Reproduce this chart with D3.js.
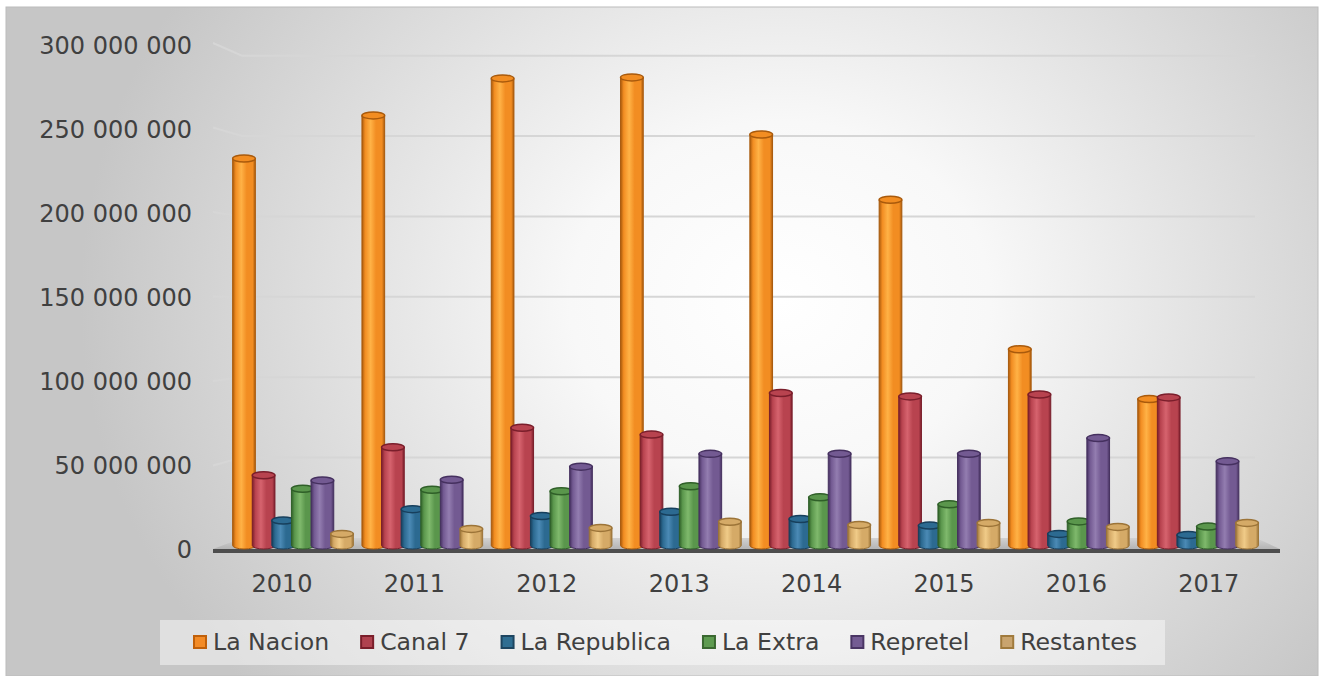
<!DOCTYPE html>
<html>
<head>
<meta charset="utf-8">
<script src="https://cdn.jsdelivr.net/npm/d3@7"></script>
<style>
  body { margin: 0; background: #fff; }
  text { font-family: "DejaVu Sans", Verdana, sans-serif; fill: #404040; }
</style>
</head>
<body>
<div id="chart"></div>
<script>
var years = ["2010", "2011", "2012", "2013", "2014", "2015", "2016", "2017"];
var seriesNames = ["La Nacion", "Canal 7", "La Republica", "La Extra", "Repretel", "Restantes"];

var laNacion    = [233100000, 259100000, 281400000, 282000000, 247600000, 208300000, 118200000, 88200000];
var canal7      = [42300000, 59200000, 70900000, 66800000, 91900000, 89800000, 91000000, 89200000];
var laRepublica = [15100000, 21900000, 17800000, 20300000, 16000000, 12000000, 7000000, 6300000];
var laExtra     = [34200000, 33600000, 32700000, 35700000, 29000000, 24800000, 14500000, 11400000];
var repretel    = [39200000, 39600000, 47500000, 55200000, 55300000, 55300000, 64700000, 50700000];
var restantes   = [7000000, 10000000, 10600000, 14300000, 12400000, 13600000, 11200000, 13600000];

var yTicks = [0, 50000000, 100000000, 150000000, 200000000, 250000000, 300000000];

var allSeries = [laNacion, canal7, laRepublica, laExtra, repretel, restantes];

// edge / mid / highlight colours per series
var colors = [
  {edge: "#a95a0c", mid: "#f28d22", hi: "#ffb246", sw: "#f38b26", sb: "#c0600a"},
  {edge: "#7a1e2b", mid: "#b8434f", hi: "#d6636e", sw: "#b0424f", sb: "#7a1e2a"},
  {edge: "#173f5c", mid: "#2c6a91", hi: "#4b8ab5", sw: "#2f6e92", sb: "#1d4560"},
  {edge: "#2f5f28", mid: "#5a964c", hi: "#7fb96c", sw: "#5e9b50", sb: "#3a6830"},
  {edge: "#45305f", mid: "#735a92", hi: "#937db0", sw: "#745c93", sb: "#4a3564"},
  {edge: "#9c7438", mid: "#d5aa67", hi: "#f0cb88", sw: "#c9a46e", sb: "#a07a3c"}
];

var W = 1324, H = 676;

var svg = d3.select("#chart").append("svg")
  .attr("width", W)
  .attr("height", H);

var defs = svg.append("defs");

var bg = defs.append("radialGradient")
  .attr("id", "bg")
  .attr("gradientUnits", "userSpaceOnUse")
  .attr("cx", 780).attr("cy", 300).attr("r", 700)
  .attr("gradientTransform", "translate(780,300) scale(1,0.85) translate(-780,-300)");
bg.append("stop").attr("offset", "0%").attr("stop-color", "#ffffff");
bg.append("stop").attr("offset", "30%").attr("stop-color", "#f8f8f8");
bg.append("stop").attr("offset", "100%").attr("stop-color", "#c6c6c6");

colors.forEach(function (c, i) {
  var g = defs.append("linearGradient")
    .attr("id", "cyl" + i)
    .attr("x1", "0%").attr("x2", "100%").attr("y1", "0%").attr("y2", "0%");
  g.append("stop").attr("offset", "0%").attr("stop-color", c.edge);
  g.append("stop").attr("offset", "14%").attr("stop-color", c.mid);
  g.append("stop").attr("offset", "38%").attr("stop-color", c.hi);
  g.append("stop").attr("offset", "62%").attr("stop-color", c.mid);
  g.append("stop").attr("offset", "88%").attr("stop-color", c.mid);
  g.append("stop").attr("offset", "100%").attr("stop-color", c.edge);
});

var floorGrad = defs.append("linearGradient")
  .attr("id", "floor")
  .attr("x1", "0%").attr("x2", "0%").attr("y1", "0%").attr("y2", "100%");
floorGrad.append("stop").attr("offset", "0%").attr("stop-color", "#d2d2d2");
floorGrad.append("stop").attr("offset", "100%").attr("stop-color", "#b4b4b4");

// chart background
svg.append("rect")
  .attr("x", 6).attr("y", 7)
  .attr("width", 1312).attr("height", 669)
  .attr("fill", "url(#bg)")
  .attr("stroke", "#bcbcbc")
  .attr("stroke-width", 1);

// scales: front plane (labels), back wall (gridlines), bar plane
var yFront = d3.scaleLinear().domain([0, 300000000]).range([550, 43]);
var yBack  = d3.scaleLinear().domain([0, 300000000]).range([538, 55.7]);
var yBar   = d3.scaleLinear().domain([0, 300000000]).range([545.5, 47.5]);
var yLabel = d3.scaleLinear().domain([0, 300000000]).range([549, 45]);

var xBar = d3.scaleBand().domain(years).range([228.35, 1262.75]);
var xLabel = d3.scaleBand().domain(years).range([215.8, 1275]);
var xSeries = d3.scaleBand().domain(seriesNames).range([0, 6 * 19.6]).paddingInner(0);
var barW = 22.7;

// gridlines
var grid = svg.append("g");
yTicks.filter(function (d) { return d > 0; }).forEach(function (t) {
  grid.append("path")
    .attr("d", "M213," + yFront(t) + "L242," + yBack(t) + "L1255," + yBack(t))
    .attr("fill", "none")
    .attr("stroke", "#d6d6d6")
    .attr("stroke-width", 2);
});

// floor
svg.append("path")
  .attr("d", "M242,538L1256,538L1280,549L213,549Z")
  .attr("fill", "url(#floor)");
svg.append("rect")
  .attr("x", 213).attr("y", 549)
  .attr("width", 1067).attr("height", 4)
  .attr("fill", "#4e4e4e");

// y axis labels
var fmt = d3.formatLocale({decimal: ",", thousands: " ", grouping: [3], currency: ["", ""]}).format(",");
var yAxis = svg.append("g")
  .attr("transform", "translate(192,0)")
  .call(d3.axisLeft(yLabel).tickValues(yTicks).tickSize(0).tickPadding(0).tickFormat(fmt));
yAxis.select(".domain").remove();
yAxis.selectAll("text")
  .attr("font-size", 24)
  .attr("font-family", "DejaVu Sans")
  .attr("fill", "#404040")
  .attr("dy", "0.36em");

// x axis labels
var xAxis = svg.append("g")
  .attr("transform", "translate(0,574)")
  .call(d3.axisBottom(xLabel).tickSize(0).tickPadding(0));
xAxis.select(".domain").remove();
xAxis.selectAll("text")
  .attr("font-size", 24)
  .attr("font-family", "DejaVu Sans")
  .attr("fill", "#404040")
  .attr("y", 0)
  .attr("dy", "0.75em");

// cylinders
var ry = 3.5;
var bars = svg.append("g");
years.forEach(function (yr, j) {
  var gx = xBar(yr) + xBar.bandwidth() / 2 - (5 * 19.6 + barW) / 2;
  seriesNames.forEach(function (s, i) {
    var v = allSeries[i][j];
    var x0 = gx + xSeries(s);
    var x1 = x0 + barW;
    var yt = yBar(v);
    var yb = yBar(0);
    var rx = barW / 2;
    var c = colors[i];
    bars.append("path")
      .attr("d", "M" + x0 + "," + yt + "L" + x0 + "," + yb +
        "A" + rx + "," + ry + " 0 0 0 " + x1 + "," + yb +
        "L" + x1 + "," + yt + "Z")
      .attr("fill", "url(#cyl" + i + ")")
      .attr("stroke", c.edge)
      .attr("stroke-width", 1);
    bars.append("ellipse")
      .attr("cx", x0 + rx).attr("cy", yt)
      .attr("rx", rx).attr("ry", ry)
      .attr("fill", c.mid)
      .attr("stroke", c.edge)
      .attr("stroke-width", 1.5);
  });
});

// legend
svg.append("rect")
  .attr("x", 160).attr("y", 620)
  .attr("width", 1005).attr("height", 45)
  .attr("fill", "#ffffff")
  .attr("fill-opacity", 0.45);

var lx = 193;
var legend = svg.append("g");
seriesNames.forEach(function (s, i) {
  legend.append("rect")
    .attr("x", lx + 1).attr("y", 636)
    .attr("width", 12).attr("height", 12)
    .attr("fill", colors[i].sw)
    .attr("stroke", colors[i].sb)
    .attr("stroke-width", 2);
  var t = legend.append("text")
    .attr("x", lx + 20).attr("y", 642)
    .attr("dy", "0.36em")
    .attr("font-size", 23.6)
    .text(s);
  lx = lx + 20 + t.node().getComputedTextLength() + 31;
});
</script>
</body>
</html>
